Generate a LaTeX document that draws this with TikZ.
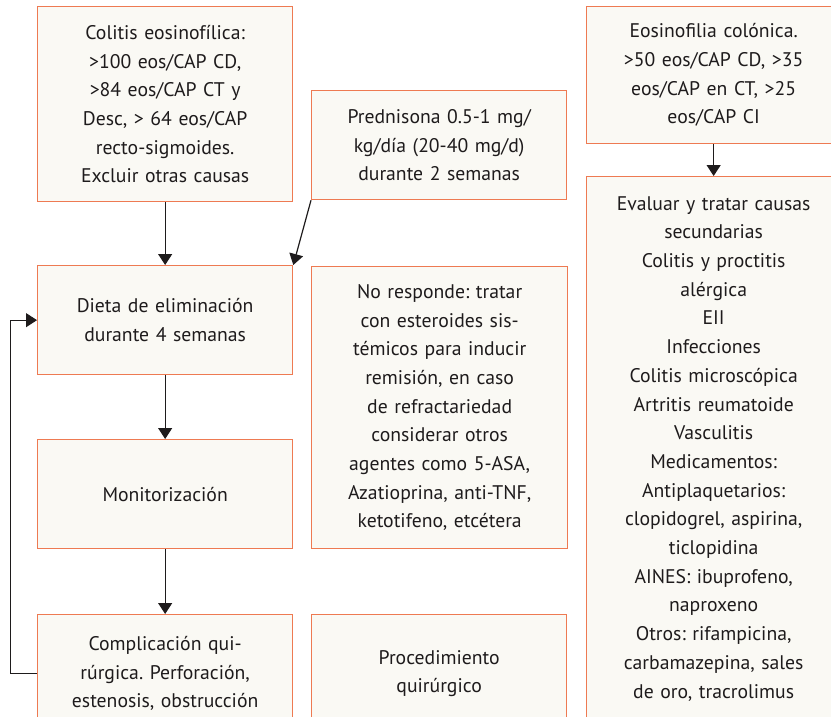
\documentclass[tikz,border=0pt]{standalone}
\usepackage{fontspec}
\setmainfont{PT Sans}
\usetikzlibrary{arrows.meta}
\definecolor{bord}{HTML}{EE7A52}
\definecolor{boxfill}{HTML}{FAF9F4}
\definecolor{ink}{HTML}{1E1B1C}
\begin{document}
\frenchspacing
\begin{tikzpicture}[x=1pt,y=-1pt,
  box/.style={draw=bord, fill=boxfill, line width=1.3pt, align=center, text=ink,
    font=\fontsize{19.7}{28.7}\selectfont\frenchspacing, inner sep=0pt, anchor=north west,
    text width=252pt},
  arr/.style={draw=ink, line width=1.2pt, -{Triangle[width=14pt,length=11pt]}}]
\useasboundingbox (0,0) rectangle (831,717);
\clip (0,0) rectangle (831,717);
\fill[white] (0,0) rectangle (831,717);
\node[box, minimum width=255pt, minimum height=195pt] (colitis) at (37,6)
  {Colitis eosinofílica:\\>100 eos/CAP CD,\\>84 eos/CAP CT y\\Desc, > 64 eos/CAP\\recto-sigmoides.\\Excluir otras causas};
\node[box, minimum width=255pt, minimum height=109pt] (pred) at (311,90)
  {Prednisona 0.5-1 mg/\\kg/día (20-40 mg/d)\\durante 2 semanas};
\node[box, minimum width=254pt, minimum height=137pt] (eos) at (586,6)
  {Eosinofilia colónica.\\>50 eos/CAP CD, >35\\eos/CAP en CT, >25\\eos/CAP CI};
\node[box, minimum width=255pt, minimum height=109pt] (dieta) at (37,265)
  {Dieta de eliminación\\durante 4 semanas};
\node[box, minimum width=256pt, minimum height=282pt] (noresp) at (311,266)
  {No responde: tratar\\con esteroides sis-\\témicos para inducir\\remisión, en caso\\de refractariedad\\considerar otros\\agentes como 5-ASA,\\Azatioprina, anti-TNF,\\ketotifeno, etcétera};
\node[box, minimum width=255pt, minimum height=109pt] (monit) at (37,439)
  {Monitorización};
\node[box, minimum width=255pt, minimum height=118pt] (compl) at (37,614)
  {Complicación qui-\\rúrgica. Perforación,\\estenosis, obstrucción};
\node[box, minimum width=255pt, minimum height=118pt] (proc) at (311,614)
  {Procedimiento\\quirúrgico};
\node[box, minimum width=254pt, minimum height=544pt] (eval) at (586,176)
  {Evaluar y tratar causas\\secundarias\\Colitis y proctitis\\alérgica\\EII\\Infecciones\\Colitis microscópica\\Artritis reumatoide\\Vasculitis\\Medicamentos:\\Antiplaquetarios:\\clopidogrel, aspirina,\\ticlopidina\\AINES: ibuprofeno,\\naproxeno\\Otros: rifampicina,\\carbamazepina, sales\\de oro, tracrolimus};
\draw[arr] (colitis.south) -- (dieta.north);
\draw[arr] (pred.south west) -- (dieta.north east);
\draw[arr] (eos.south) -- (eval.north);
\draw[arr] (dieta.south) -- (monit.north);
\draw[arr] (monit.south) -- (compl.north);
\draw[arr, line width=1pt] (compl.west) -- ++(-27,0) |- (dieta.west);
\end{tikzpicture}
\end{document}
